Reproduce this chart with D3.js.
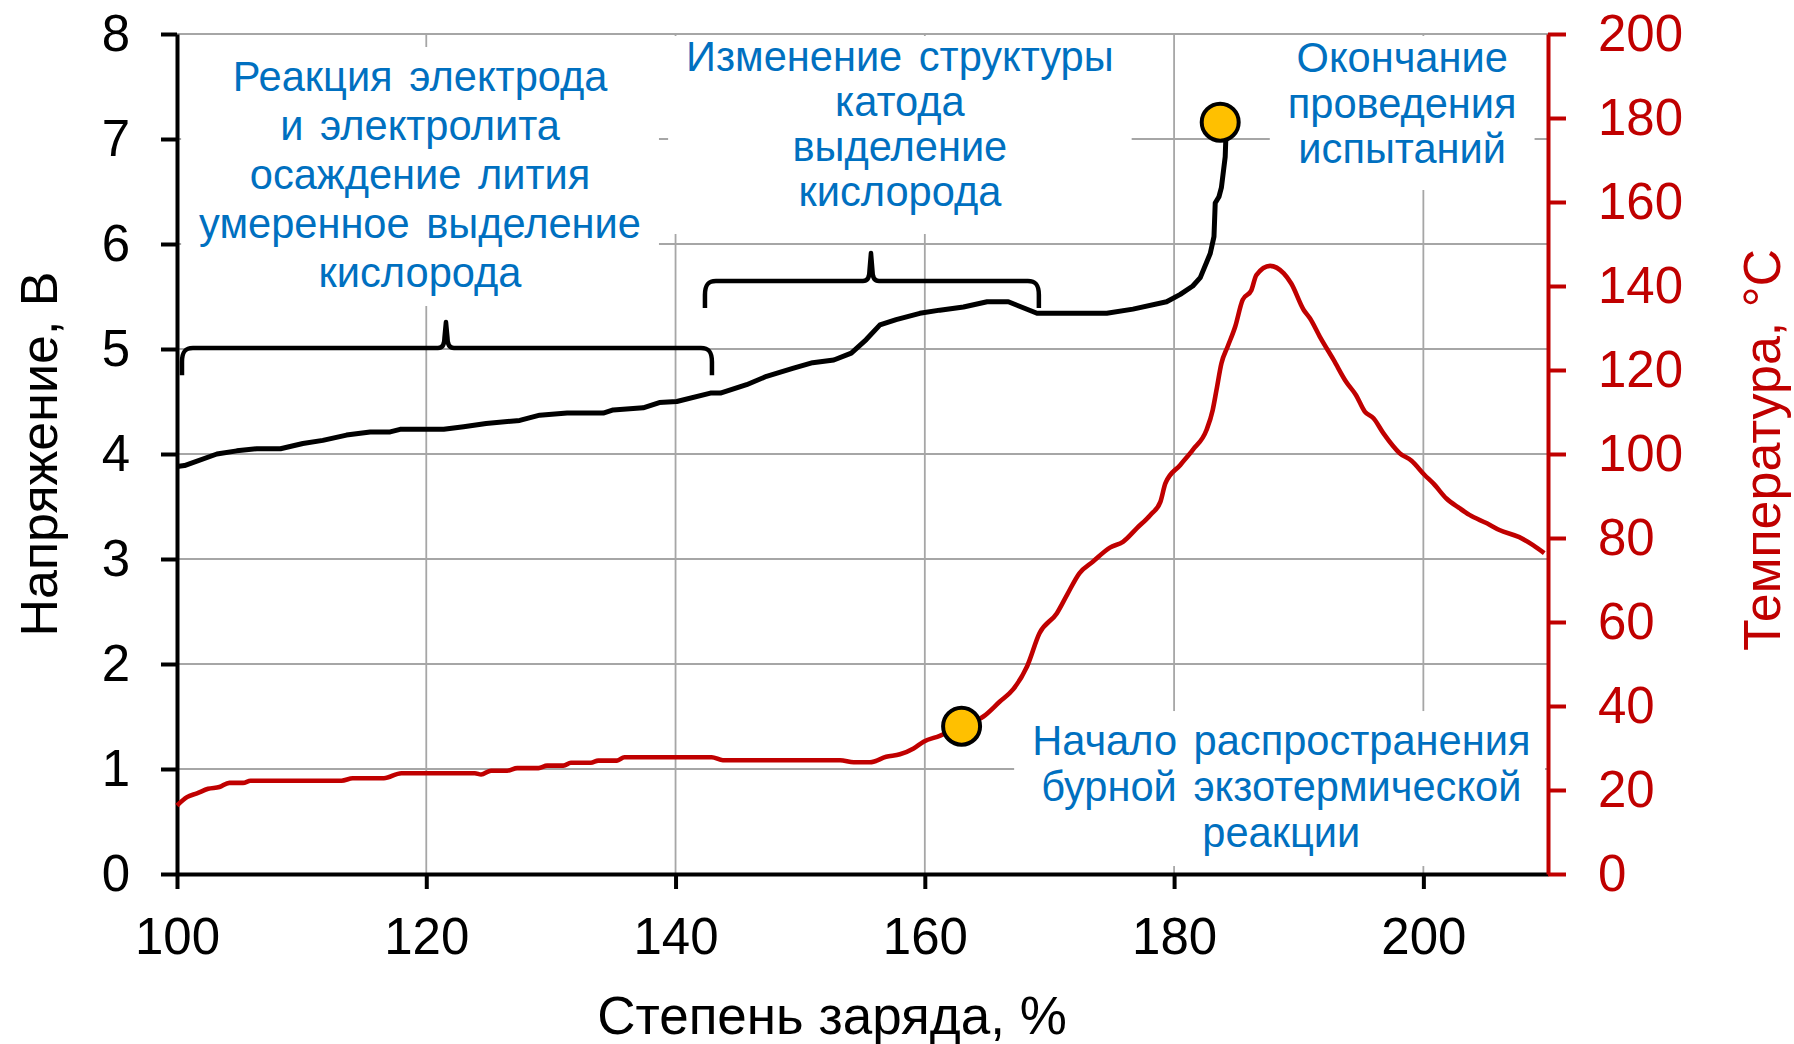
<!DOCTYPE html>
<html><head><meta charset="utf-8">
<script src="https://cdn.jsdelivr.net/npm/d3@7"></script>
<style>
html,body{margin:0;padding:0;background:#fff;overflow:hidden;}
svg text{font-family:"Liberation Sans",Arial,sans-serif;}
</style></head><body>
<svg id="chart" width="1794" height="1044"></svg>
<script>
// ---- data ----
const chargeV = [100.0,100.6,103.2,104.8,106.4,108.3,110.1,111.7,113.6,115.5,117.1,117.9,121.4,123.0,124.8,127.5,129.1,131.3,134.2,135.0,137.4,138.7,140.1,142.8,143.6,145.7,147.3,149.4,151.0,152.7,154.1,155.3,156.4,157.7,159.6,161.2,163.1,165.0,166.7,169.0,174.6,176.7,179.4,180.5,181.5,182.1,182.9,183.2,183.3,183.6,183.8,184.1,184.15];
const voltage = [3.88,3.89,4.00,4.03,4.05,4.05,4.10,4.13,4.18,4.21,4.21,4.235,4.235,4.26,4.29,4.32,4.37,4.39,4.39,4.42,4.44,4.49,4.50,4.58,4.58,4.66,4.74,4.815,4.87,4.895,4.96,5.09,5.23,5.28,5.34,5.37,5.40,5.45,5.45,5.34,5.34,5.38,5.45,5.52,5.60,5.68,5.91,6.07,6.39,6.45,6.54,6.83,7.00];
const chargeT = [100.0,100.8,101.6,102.5,103.4,104.2,105.3,105.9,113.2,114.1,116.6,118.0,123.9,124.4,125.2,126.5,127.3,129.0,129.7,131.0,131.6,133.2,133.8,135.3,135.9,142.9,143.8,153.2,154.3,155.6,156.9,158.0,159.1,159.9,161.2,162.95,164.7,166.0,167.1,168.2,169.2,170.6,171.4,172.4,173.5,174.85,175.9,177.0,178.1,178.9,179.3,180.5,181.5,182.6,183.1,183.4,183.8,184.3,184.9,185.5,186.2,186.6,187.7,188.8,189.4,190.4,190.9,191.7,192.8,193.8,194.6,195.3,196.0,196.8,198.1,199.05,200.1,200.8,201.85,202.9,203.7,205.1,206.1,207.7,208.8,209.7];
const temperature = [16.3,18.3,19.2,20.3,20.7,21.7,21.7,22.2,22.2,22.8,22.8,24.0,24.0,23.7,24.6,24.6,25.2,25.2,25.8,25.8,26.5,26.5,27.0,27.0,27.8,27.8,27.1,27.1,26.6,26.6,27.9,28.5,29.9,31.5,32.9,35.2,37.5,41.0,44.0,49.4,57.3,62.1,66.4,71.6,74.4,77.7,79.1,82.3,85.5,88.6,93.0,97.4,101.0,105.7,110.5,115.2,121.6,125.6,130.3,136.7,139.0,142.6,144.8,143.0,140.6,134.3,132.3,127.9,122.4,117.2,114.0,110.1,108.5,104.9,100.2,98.4,95.0,93.0,89.4,87.1,85.5,83.5,81.9,80.2,78.3,76.4];
const xTicks = [100,120,140,160,180,200];
const vTicks = [0,1,2,3,4,5,6,7,8];
const tTicks = [0,20,40,60,80,100,120,140,160,180,200];
const xTitle = "Степень заряда, %";
const vTitle = "Напряжение, В";
const tTitle = "Температура, °С";
// markers: [charge, value, axis]
const markerCharge = [183.7, 162.95];
const markerValue = [7.16, 35.2];
const markerAxis = ["v","t"];
// brackets in data units
const bracketX1 = [100.48, 142.44];
const bracketX2 = [142.84, 169.07];
const bracketTip = [121.58, 155.68];
const bracketLevel = [5.01, 5.648];
const bracketEnd = [4.75, 5.39];
const bracketTop = [5.257, 5.914];
// annotations
const noteLines = [
  ["Реакция электрода","и электролита","осаждение лития","умеренное выделение","кислорода"],
  ["Изменение структуры","катода","выделение","кислорода"],
  ["Окончание","проведения","испытаний"],
  ["Начало распространения","бурной экзотермической","реакции"]
];

// ---- layout ----
const L=177, R=1548, T=34, B=874;
const svg = d3.select("#chart");
const x = d3.scaleLinear().domain([100,210]).range([L,R]);
const yV = d3.scaleLinear().domain([0,8]).range([B,T]);
const yT = d3.scaleLinear().domain([0,200]).range([B,T]);
const RED="#C00000", BLUE="#0070C0", GRID="#A6A6A6";
const FONT='"Liberation Sans",Arial,sans-serif';

// grid
const grid = svg.append("g");
grid.selectAll("line.h").data(vTicks.filter(d=>d>0)).join("line")
  .attr("x1",L).attr("x2",R).attr("y1",d=>yV(d)).attr("y2",d=>yV(d))
  .attr("stroke",GRID).attr("stroke-width",1.8);
grid.selectAll("line.v").data(xTicks.filter(d=>d>100)).join("line")
  .attr("x1",d=>x(d)).attr("x2",d=>x(d)).attr("y1",T).attr("y2",B)
  .attr("stroke",GRID).attr("stroke-width",1.8);

const maskLayer = svg.append("g");

// axes
const gx = svg.append("g").attr("transform",`translate(0,${B})`)
  .call(d3.axisBottom(x).tickValues(xTicks).tickSize(15).tickPadding(29).tickSizeOuter(0));
const gy = svg.append("g").attr("transform",`translate(${L},0)`)
  .call(d3.axisLeft(yV).tickValues(vTicks).tickSize(16).tickPadding(31).tickSizeOuter(0));
const gr = svg.append("g").attr("transform",`translate(${R},0)`)
  .call(d3.axisRight(yT).tickValues(tTicks).tickSize(18).tickPadding(32).tickSizeOuter(0));
[gx,gy].forEach(g=>{
  g.attr("font-size",51).attr("font-family",FONT);
  g.selectAll("path,line").attr("stroke","#000").attr("stroke-width",4);
  g.selectAll("text").attr("fill","#000");
});
gr.attr("font-size",51).attr("font-family",FONT);
gr.selectAll("path,line").attr("stroke",RED).attr("stroke-width",4);
gr.selectAll("text").attr("fill",RED);

// titles
svg.append("text").attr("transform","translate(57,454) rotate(-90)")
  .attr("text-anchor","middle").attr("font-size",52).attr("fill","#000").text(vTitle);
svg.append("text").attr("transform","translate(1780,450) rotate(-90)")
  .attr("text-anchor","middle").attr("font-size",52).attr("fill",RED).text(tTitle);
svg.append("text").attr("x",832).attr("y",1034)
  .attr("text-anchor","middle").attr("font-size",53).attr("fill","#000").text(xTitle);

// lines
const tempData = chargeT.map((c,i)=>[c,temperature[i]]);
const voltData = chargeV.map((c,i)=>[c,voltage[i]]);
svg.append("path").datum(tempData)
  .attr("d",d3.line().x(d=>x(d[0])).y(d=>yT(d[1])).curve(d3.curveMonotoneX))
  .attr("fill","none").attr("stroke",RED).attr("stroke-width",4.6).attr("stroke-linejoin","round");
svg.append("path").datum(voltData)
  .attr("d",d3.line().x(d=>x(d[0])).y(d=>yV(d[1])).curve(d3.curveLinear))
  .attr("fill","none").attr("stroke","#000").attr("stroke-width",5).attr("stroke-linejoin","round");

// brackets
bracketX1.forEach((_,i)=>{
  const x1=x(bracketX1[i]), x2=x(bracketX2[i]), xs=x(bracketTip[i]);
  const y=yV(bracketLevel[i]), ye=yV(bracketEnd[i]), yt=yV(bracketTop[i]);
  const p = d3.path();
  p.moveTo(x1-1, ye);
  p.lineTo(x1-1, y+14);
  p.bezierCurveTo(x1-1, y+4, x1+2, y, x1+10, y);
  p.lineTo(xs-8, y);
  p.quadraticCurveTo(xs-1.5, y, xs-1.5, y-10);
  p.lineTo(xs, yt);
  p.lineTo(xs+1.5, y-10);
  p.quadraticCurveTo(xs+1.5, y, xs+8, y);
  p.lineTo(x2-10, y);
  p.bezierCurveTo(x2-2, y, x2+1, y+4, x2+1, y+14);
  p.lineTo(x2+1, ye);
  svg.append("path").attr("d",p.toString()).attr("fill","none")
    .attr("stroke","#000").attr("stroke-width",4.5).attr("stroke-linejoin","round");
});

// markers
markerCharge.forEach((c,i)=>{
  const yy = markerAxis[i]==="v" ? yV(markerValue[i]) : yT(markerValue[i]);
  svg.append("circle").attr("cx",x(c)).attr("cy",yy).attr("r",18.5)
    .attr("fill","#FFC000").attr("stroke","#000").attr("stroke-width",4);
});

// annotations: anchor (charge, voltage) of first baseline, line spacing
const noteAnchorX = [119.5, 158.0, 198.3, 188.6];
const noteAnchorV = [7.457, 7.648, 7.638, 1.133];
const noteStep = [49, 45, 45.5, 46];
noteLines.forEach((lines,i)=>{
  const g = svg.append("text").attr("font-size",41.6).attr("fill",BLUE)
    .attr("text-anchor","middle").attr("word-spacing",5);
  lines.forEach((s,j)=>{
    g.append("tspan").attr("x",x(noteAnchorX[i])).attr("y",yV(noteAnchorV[i])+j*noteStep[i]).text(s);
  });
  const bb = g.node().getBBox();
  const x0 = Math.max(L+3,bb.x-18), x1 = Math.min(R-3,bb.x+bb.width+18);
  maskLayer.append("rect").attr("x",x0).attr("y",Math.max(T+2,bb.y-6))
    .attr("width",x1-x0).attr("height",bb.height+16).attr("fill","#fff");
});
</script>
</body></html>
